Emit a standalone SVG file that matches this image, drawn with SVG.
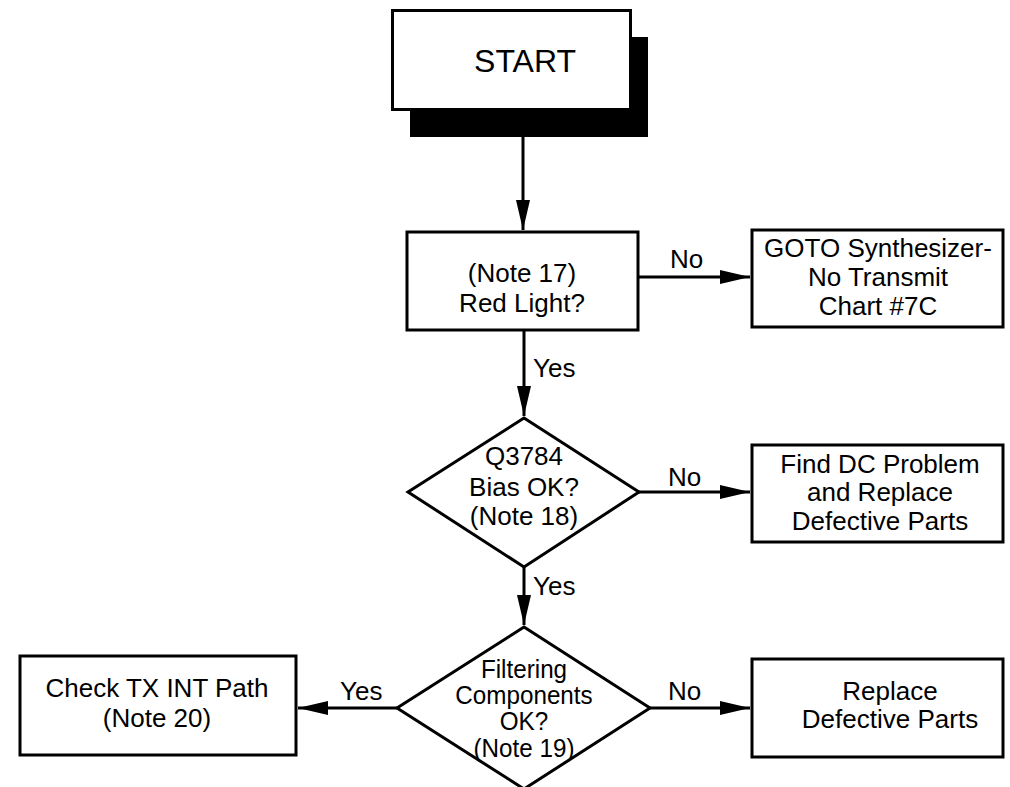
<svg xmlns="http://www.w3.org/2000/svg" width="1010" height="787" viewBox="0 0 1010 787">
  <style>
    .box { fill: #fff; stroke: #000; stroke-width: 3; }
    .shadow { fill: #000; }
    .line { fill: none; stroke: #000; stroke-width: 3; }
    text { font-family: "Liberation Sans", Arial, sans-serif; font-size: 26px; fill: #000; text-anchor: middle; }
    .lbl { text-anchor: start; }
    .narrow text { font-size: 25px; }
  </style>
  <defs>
    <marker id="arrow" markerUnits="userSpaceOnUse" markerWidth="31" markerHeight="16" refX="30" refY="8" orient="auto">
      <path d="M0,1 L30,8 L0,15 Z" fill="#000"/>
    </marker>
  </defs>

  <g id="start">
    <rect class="shadow" x="410" y="37" width="238" height="100"/>
    <rect class="box" x="392.5" y="10.5" width="238" height="99"/>
    <text x="525" y="72" style="font-size:32px">START</text>
  </g>

  <g id="red-light">
    <rect class="box" x="407" y="232" width="231" height="98"/>
    <text x="522" y="282">(Note 17)</text>
    <text x="522" y="312">Red Light?</text>
  </g>

  <g id="goto-synth">
    <rect class="box" x="752" y="230" width="251" height="97"/>
    <text x="878" y="257">GOTO Synthesizer-</text>
    <text x="878" y="286">No Transmit</text>
    <text x="878" y="315">Chart #7C</text>
  </g>

  <g id="bias-check">
    <polygon class="box" points="524,418 639,492 524,567 408,492"/>
    <text x="524" y="465">Q3784</text>
    <text x="524" y="496">Bias OK?</text>
    <text x="524" y="525">(Note 18)</text>
  </g>

  <g id="find-dc">
    <rect class="box" x="752" y="445" width="251" height="97"/>
    <text x="880" y="473">Find DC Problem</text>
    <text x="880" y="501">and Replace</text>
    <text x="880" y="530">Defective Parts</text>
  </g>

  <g id="filter-check">
    <polygon class="box" points="524,627 650,708 524,789 397,708"/>
    <g class="narrow" transform="translate(524,0) scale(0.97,1)">
      <text x="0" y="678">Filtering</text>
      <text x="0" y="704">Components</text>
      <text x="0" y="730">OK?</text>
      <text x="0" y="757">(Note 19)</text>
    </g>
  </g>

  <g id="check-tx">
    <rect class="box" x="20" y="656" width="276" height="99"/>
    <text x="157" y="697">Check TX INT Path</text>
    <text x="157" y="727">(Note 20)</text>
  </g>

  <g id="replace-parts">
    <rect class="box" x="752" y="659" width="251" height="98"/>
    <text x="890" y="700">Replace</text>
    <text x="890" y="728">Defective Parts</text>
  </g>

  <g id="connectors">
    <line class="line" x1="523" y1="137" x2="523" y2="230" marker-end="url(#arrow)"/>
    <line class="line" x1="524" y1="330" x2="524" y2="416" marker-end="url(#arrow)"/>
    <line class="line" x1="638" y1="277" x2="750" y2="277" marker-end="url(#arrow)"/>
    <line class="line" x1="639" y1="492" x2="750" y2="492" marker-end="url(#arrow)"/>
    <line class="line" x1="524" y1="567" x2="524" y2="625" marker-end="url(#arrow)"/>
    <line class="line" x1="650" y1="708" x2="750" y2="708" marker-end="url(#arrow)"/>
    <line class="line" x1="397" y1="708" x2="298" y2="708" marker-end="url(#arrow)"/>
    <text class="lbl" x="670" y="268">No</text>
    <text class="lbl" x="533" y="377">Yes</text>
    <text class="lbl" x="668" y="486">No</text>
    <text class="lbl" x="533" y="595">Yes</text>
    <text class="lbl" x="668" y="700">No</text>
    <text class="lbl" x="340" y="700">Yes</text>
  </g>
</svg>
